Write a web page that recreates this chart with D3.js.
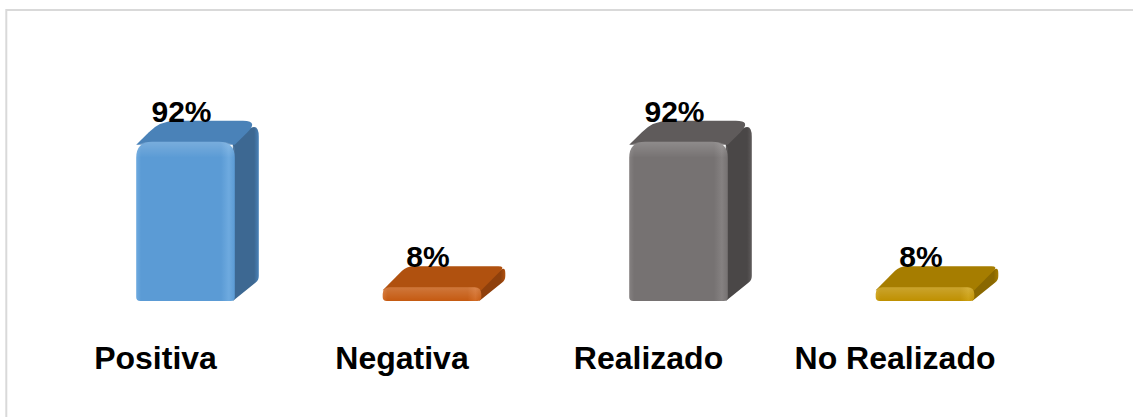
<!DOCTYPE html>
<html>
<head>
<meta charset="utf-8">
<script src="https://cdn.jsdelivr.net/npm/d3@7"></script>
<style>
  html, body { margin: 0; padding: 0; background: #ffffff; }
  svg { display: block; }
  text { font-family: "Liberation Sans", Arial, sans-serif; font-weight: bold; fill: #000; }
</style>
</head>
<body>
<svg id="chart" width="1133" height="417"></svg>
<script>
// Chart data
const categories = ["Positiva", "Negativa", "Realizado", "No Realizado"];
const values = [92, 8, 92, 8];
const valueLabels = ["92%", "8%", "92%", "8%"];

// Face colours per bar: front, side, top, highlight
const palette = [
  { front: "#5b9bd5", side: "#3d6892", top: "#4a82b8", hi: "#6eaadf" },
  { front: "#c55a11", side: "#8f400c", top: "#b0510f", hi: "#d26a24" },
  { front: "#767272", side: "#4a4747", top: "#5f5b5b", hi: "#858181" },
  { front: "#bf9000", side: "#8a6800", top: "#a67d00", hi: "#cc9f10" }
];

const svg = d3.select("#chart");
const W = 1133, H = 417;

// frame
svg.append("path")
  .attr("d", `M6.3,${H} V10 H${W}`)
  .attr("fill", "none")
  .attr("stroke", "#d9d9d9")
  .attr("stroke-width", 2);

const x = d3.scaleBand()
  .domain(categories)
  .range([32.25, 1018.25])
  .paddingInner(0.6)
  .paddingOuter(0.3);

const base = 301;
const y = d3.scaleLinear().domain([0, 100]).range([base, base - 173]);

// 3D extrusion of each column
const depthX = 24, depthY = -21;
const frontShift = 30;

// polygon path with rounded corners (radius per vertex)
function roundedPolygon(pts, radii) {
  const n = pts.length;
  let d = "";
  for (let i = 0; i < n; i++) {
    const p = pts[i];
    const prev = pts[(i - 1 + n) % n];
    const next = pts[(i + 1) % n];
    const r = radii[i];
    const l1 = Math.hypot(prev[0] - p[0], prev[1] - p[1]);
    const l2 = Math.hypot(next[0] - p[0], next[1] - p[1]);
    const r1 = Math.min(r, l1 / 2), r2 = Math.min(r, l2 / 2);
    const a = [p[0] + (prev[0] - p[0]) * r1 / l1, p[1] + (prev[1] - p[1]) * r1 / l1];
    const b = [p[0] + (next[0] - p[0]) * r2 / l2, p[1] + (next[1] - p[1]) * r2 / l2];
    d += (i === 0 ? "M" : "L") + a[0] + "," + a[1];
    d += "Q" + p[0] + "," + p[1] + " " + b[0] + "," + b[1];
  }
  return d + "Z";
}

const defs = svg.append("defs");
palette.forEach((c, i) => {
  const gf = defs.append("linearGradient").attr("id", "front" + i)
    .attr("x1", 0).attr("x2", 1).attr("y1", 0).attr("y2", 0);
  gf.append("stop").attr("offset", "0%").attr("stop-color", c.hi);
  gf.append("stop").attr("offset", "5%").attr("stop-color", c.front);
  gf.append("stop").attr("offset", "86%").attr("stop-color", c.front);
  gf.append("stop").attr("offset", "94%").attr("stop-color", c.hi);
  gf.append("stop").attr("offset", "100%").attr("stop-color", c.front);

  const gs = defs.append("linearGradient").attr("id", "side" + i)
    .attr("x1", 0).attr("x2", 1).attr("y1", 0).attr("y2", 0);
  gs.append("stop").attr("offset", "0%").attr("stop-color", c.side);
  gs.append("stop").attr("offset", "82%").attr("stop-color", c.side);
  gs.append("stop").attr("offset", "100%").attr("stop-color", c.top);
});
const gt = defs.append("linearGradient").attr("id", "bevel")
  .attr("x1", 0).attr("x2", 0).attr("y1", 0).attr("y2", 1);
gt.append("stop").attr("offset", "0%").attr("stop-color", "#ffffff").attr("stop-opacity", 0.18);
gt.append("stop").attr("offset", "100%").attr("stop-color", "#ffffff").attr("stop-opacity", 0);

const bars = svg.selectAll("g.bar")
  .data(categories.map((c, i) => ({ c, v: values[i], label: valueLabels[i], i })))
  .join("g").attr("class", "bar");

bars.each(function (d) {
  const g = d3.select(this);
  const w = x.bandwidth();
  const x0 = x(d.c) + frontShift;
  const y0 = y(d.v);
  const h = base - y0;
  const r = Math.min(16, h * 0.5);
  const c = palette[d.i];

  // side face
  g.append("path")
    .attr("d", roundedPolygon(
      [[x0 + w - 2, y0], [x0 + w + depthX, y0 + depthY], [x0 + w + depthX, base + depthY], [x0 + w - 2, base]],
      [0, r, 4, 0]))
    .attr("fill", `url(#side${d.i})`);

  // top face
  g.append("path")
    .attr("d", roundedPolygon(
      [[x0, y0 + 3], [x0 + depthX, y0 + depthY], [x0 + w + depthX, y0 + depthY], [x0 + w, y0 + 3]],
      [0, r, r, 0]))
    .attr("fill", c.top);

  // front face
  g.append("path")
    .attr("d", roundedPolygon(
      [[x0, base], [x0, y0], [x0 + w, y0], [x0 + w, base]],
      [4, r, r, 4]))
    .attr("fill", `url(#front${d.i})`);

  // bevel light along the front top edge
  g.append("path")
    .attr("d", roundedPolygon(
      [[x0, y0 + Math.min(16, h)], [x0, y0], [x0 + w, y0], [x0 + w, y0 + Math.min(16, h)]],
      [0, r, r, 0]))
    .attr("fill", "url(#bevel)");

  // value label
  g.append("text")
    .attr("x", x0 + w / 2 - 4)
    .attr("y", y0 - 20)
    .attr("text-anchor", "middle")
    .style("font-size", "30px")
    .text(d.label);
});

// category labels
const axis = d3.axisBottom(x).tickSize(0).tickPadding(0);
const ax = svg.append("g").attr("transform", "translate(0,346)").call(axis);
ax.select(".domain").remove();
ax.selectAll("text")
  .attr("dy", null)
  .attr("y", 23)
  .style("font-size", "32px")
  .style("font-family", "'Liberation Sans', Arial, sans-serif")
  .style("font-weight", "bold")
  .attr("fill", "#000");
</script>
</body>
</html>
